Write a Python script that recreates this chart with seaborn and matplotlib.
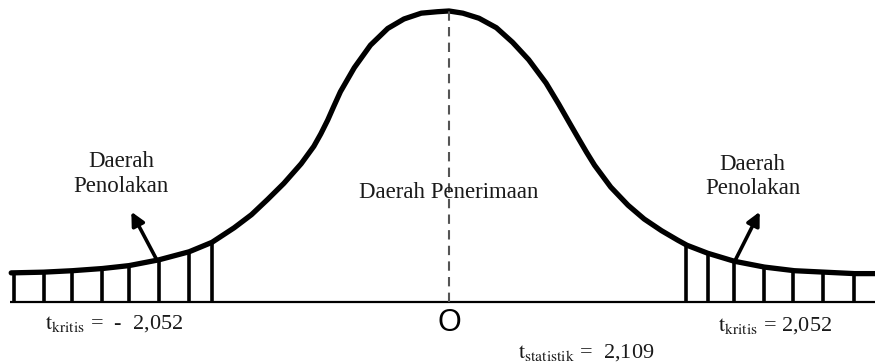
import numpy as np
import pandas as pd
import matplotlib
matplotlib.use("Agg")
import matplotlib.pyplot as plt
import seaborn as sns

# ---- data ----
curve_t = [-3.79, -3.51, -3.26, -3.00, -2.77, -2.51, -2.25, -2.052, -1.86, -1.71,
           -1.57, -1.43, -1.28, -1.17, -1.11, -1.05, -1.00, -0.94, -0.82, -0.68,
           -0.53, -0.39, -0.24, -0.10, 0.0,
           0.12, 0.26, 0.41, 0.55, 0.69, 0.84, 0.95, 1.04, 1.12, 1.19,
           1.26, 1.40, 1.55, 1.69, 1.84, 1.98, 2.06, 2.24, 2.47, 2.73,
           2.99, 3.25, 3.51, 3.70]
curve_h = [0.040, 0.041, 0.043, 0.046, 0.050, 0.058, 0.069, 0.082, 0.102, 0.120,
           0.141, 0.163, 0.190, 0.214, 0.231, 0.250, 0.268, 0.289, 0.322, 0.353,
           0.376, 0.389, 0.397, 0.399, 0.400,
           0.397, 0.390, 0.377, 0.357, 0.333, 0.301, 0.272, 0.247, 0.225, 0.206,
           0.188, 0.158, 0.133, 0.114, 0.098, 0.085, 0.078, 0.067, 0.056, 0.048,
           0.043, 0.041, 0.039, 0.039]

left_bars = [-3.77, -3.51, -3.26, -3.00, -2.77, -2.51, -2.25, -2.052]
right_bars = [2.052, 2.24, 2.47, 2.73, 2.98, 3.24, 3.51]

t_kritis = 2.052
t_statistik = 2.109

region_reject = "Daerah\nPenolakan"
region_accept = "Daerah Penerimaan"
center_label = "O"

# ---- drawing ----
sns.set_theme(style="white")
plt.rcParams["font.family"] = ["Liberation Serif", "DejaVu Serif"]
plt.rcParams["mathtext.fontset"] = "stix"

fig = plt.figure(figsize=(8.75, 3.62), dpi=100)
ax = fig.add_axes([0, 0, 1, 1])

df = pd.DataFrame({"t": curve_t, "h": curve_h})
sns.lineplot(data=df, x="t", y="h", ax=ax, color="black", linewidth=3.8,
             sort=True, estimator=None, solid_joinstyle="round",
             solid_capstyle="round")

# baseline
ax.plot([-3.80, 3.75], [0, 0], color="black", linewidth=1.6, solid_capstyle="butt")

# rejection-region bars
bars = np.array(left_bars + right_bars)
tops = np.interp(bars, curve_t, curve_h)
ax.vlines(bars, 0, tops, color="black", linewidth=2.6)

# centre dashed line
ax.plot([0, 0], [0, max(curve_h)], color="#555555", linewidth=1.5,
        linestyle=(0, (4.5, 3)))

# arrows
for start, tip in [((-2.53, 0.058), (-2.75, 0.124)), ((2.48, 0.058), (2.69, 0.124))]:
    ax.annotate("", xy=tip, xytext=start,
                arrowprops=dict(arrowstyle="-|>", color="black", lw=2.6,
                                mutation_scale=20, shrinkA=0, shrinkB=0))

txt_color = "#1a1a1a"
# text
ax.text(-2.84, 0.176, region_reject, ha="center", va="center", fontsize=16.5,
        color=txt_color, linespacing=1.2)
ax.text(2.63, 0.172, region_reject, ha="center", va="center", fontsize=16.5,
        color=txt_color, linespacing=1.2)
ax.text(0.0, 0.150, region_accept, ha="center", va="center", fontsize=16.5,
        color=txt_color)
ax.text(0.0, -0.029, center_label, ha="center", va="center", fontsize=22,
        family=["Liberation Sans", "DejaVu Sans"], color="black")

ax.text(-3.50, -0.030, r"$\mathrm{t}_{\mathrm{kritis}}$" + " =  -  " + f"{t_kritis:.3f}".replace(".", ","),
        ha="left", va="center", fontsize=16, color=txt_color)
ax.text(2.33, -0.032, r"$\mathrm{t}_{\mathrm{kritis}}$" + " = " + f"{t_kritis:.3f}".replace(".", ","),
        ha="left", va="center", fontsize=16, color=txt_color)
ax.text(0.60, -0.069, r"$\mathrm{t}_{\mathrm{statistik}}$" + " =  " + f"{t_statistik:.3f}".replace(".", ","),
        ha="left", va="center", fontsize=16, color=txt_color)

ax.set_xlim(-3.887, 3.688)
ax.set_ylim(-0.0825, 0.4151)
ax.set_axis_off()
if ax.get_legend() is not None:
    ax.get_legend().remove()

fig.savefig("out.png", dpi=100)
